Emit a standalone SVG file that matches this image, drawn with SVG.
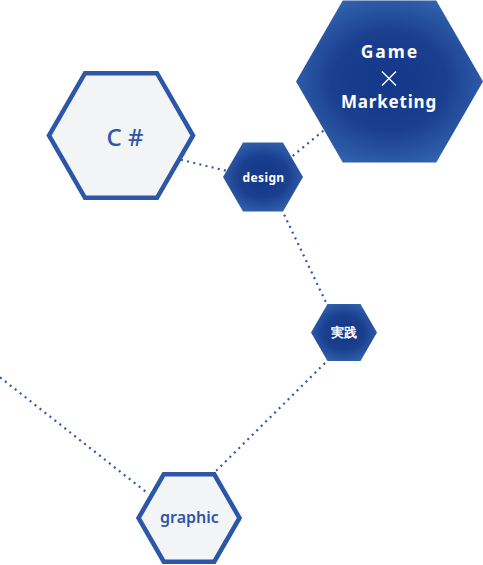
<svg xmlns="http://www.w3.org/2000/svg" width="483" height="565" viewBox="0 0 483 565">
<style>
.con{fill:none;stroke:#2d59a9;stroke-width:2.2;stroke-dasharray:2 4.3}
.light{fill:#f3f4f6;stroke:#2c57a8;stroke-width:4.5;stroke-linejoin:miter}
.dark{fill:url(#dg)}
.wt{fill:#ffffff;font-family:"Noto Sans","Liberation Sans",sans-serif;font-weight:bold;text-anchor:middle}
.bt{fill:#2f56a8;font-family:"Noto Sans","Liberation Sans",sans-serif;text-anchor:middle}
</style>
<defs>
<radialGradient id="dg" cx="0.5" cy="0.5" r="0.55">
<stop offset="0" stop-color="#14378a"/>
<stop offset="0.55" stop-color="#1a3f8e"/>
<stop offset="1" stop-color="#3262ae"/>
</radialGradient>
</defs>
<g id="connectors">
<line class="con" x1="181" y1="159.8" x2="226" y2="170.7"/>
<line class="con" x1="283" y1="164" x2="326" y2="128.5"/>
<line class="con" x1="281.5" y1="209" x2="326" y2="302.5"/>
<line class="con" x1="325" y1="363" x2="215" y2="472"/>
<line class="con" x1="0" y1="377.3" x2="148" y2="493.5"/>
</g>
<g id="node-game-marketing">
<polygon class="dark" points="483,81.5 436.25,162.5 342.75,162.5 296,81.5 342.75,0.5 436.25,0.5"/>
<text class="wt" x="390" y="58" font-size="17.5" letter-spacing="2">Game</text>
<path d="M382,71.5 L396,85.5 M396,71.5 L382,85.5" stroke="#ffffff" stroke-width="1.4" fill="none"/>
<text class="wt" x="389" y="108" font-size="17" letter-spacing="0.8">Marketing</text>
</g>
<g id="node-csharp">
<polygon class="light" points="193,135.5 157,197.85 85,197.85 49,135.5 85,73.15 157,73.15"/>
<text class="bt" x="125" y="145.5" font-size="24" font-weight="500">C #</text>
</g>
<g id="node-design">
<polygon class="dark" points="303,177 283,211.6 243,211.6 223,177 243,142.4 283,142.4"/>
<text class="wt" x="263.5" y="181.5" font-size="12" font-weight="500" letter-spacing="0.4">design</text>
</g>
<g id="node-jissen">
<polygon class="dark" points="377,332.5 360.5,361.1 327.5,361.1 311,332.5 327.5,303.9 360.5,303.9"/>
<text class="wt" x="344" y="337" font-size="12.5" font-family="'Noto Sans CJK JP',sans-serif">実践</text>
</g>
<g id="node-graphic">
<polygon class="light" points="239.5,518 214.25,561.7 163.75,561.7 138.5,518 163.75,474.3 214.25,474.3"/>
<text class="bt" x="189.5" y="523" font-size="16" font-weight="600">graphic</text>
</g>
</svg>
